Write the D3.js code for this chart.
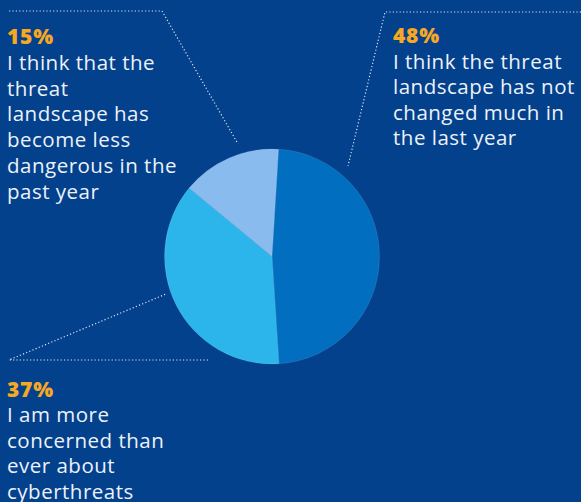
<!DOCTYPE html>
<html>
<head>
<meta charset="utf-8">
<script src="https://cdn.jsdelivr.net/npm/d3@7"></script>
<style>
  html, body { margin: 0; padding: 0; background: #03418D; }
  svg { display: block; }
</style>
</head>
<body>
<svg id="chart" width="581" height="502"></svg>
<script>
// Survey answers, in pie order (clockwise from the top)
const answers = ["not changed", "more concerned", "less dangerous"];
const shares = [48, 37, 15];
const shareLabels = ["48%", "37%", "15%"];
const answerLines = [
  ["I think the threat", "landscape has not", "changed much in", "the last year"],
  ["I am more", "concerned than", "ever about", "cyberthreats"],
  ["I think that the", "threat", "landscape has", "become less", "dangerous in the", "past year"]
];
const sliceColors = ["#016EBF", "#2CB5EB", "#89BBEF"];

const W = 581, H = 502;
const svg = d3.select("#chart");
svg.append("rect").attr("width", W).attr("height", H).attr("fill", "#03418D");

// Pie geometry
const cx = 272, cy = 256.5, radius = 107.5;
const startOffset = 3.5 * Math.PI / 180;

const pie = d3.pie()
  .sort(null)
  .value(d => d)
  .startAngle(startOffset)
  .endAngle(startOffset + 2 * Math.PI);

const arc = d3.arc().innerRadius(0).outerRadius(radius);

const g = svg.append("g").attr("transform", `translate(${cx},${cy})`);
g.selectAll("path")
  .data(pie(shares))
  .join("path")
  .attr("d", arc)
  .attr("fill", (d, i) => sliceColors[i])
  .attr("stroke", "rgba(255,255,255,0.18)")
  .attr("stroke-width", 0.6);

// Label blocks and their dotted leader lines
const labelLayout = [
  { x: 393, y: 43, step: 25.5,
    leader: [[581, 12], [385, 12], [348, 166]] },
  { x: 7, y: 397, step: 25.4,
    leader: [[208, 360], [9, 360], [166, 294]] },
  { x: 7, y: 44, step: 25.8,
    leader: [[9, 11], [162, 11], [238, 144]] }
];

const line = d3.line();

labelLayout.forEach((lay, i) => {
  svg.append("path")
    .attr("d", line(lay.leader))
    .attr("fill", "none")
    .attr("stroke", "#FFFFFF")
    .attr("stroke-opacity", 0.85)
    .attr("stroke-width", 1.2)
    .attr("stroke-dasharray", "1.2,2.2");

  const t = svg.append("text")
    .attr("font-family", "'Open Sans', sans-serif");

  t.append("tspan")
    .attr("x", lay.x)
    .attr("y", lay.y)
    .attr("font-size", 21)
    .attr("font-weight", 800)
    .attr("letter-spacing", 0.8)
    .attr("fill", "#F7A823")
    .text(shareLabels[i]);

  answerLines[i].forEach((s, k) => {
    t.append("tspan")
      .attr("x", lay.x)
      .attr("y", lay.y + lay.step * (k + 1))
      .attr("font-size", 20.5)
      .attr("letter-spacing", 0.5)
      .attr("fill", "#EDF1F8")
      .text(s);
  });
});
</script>
</body>
</html>
